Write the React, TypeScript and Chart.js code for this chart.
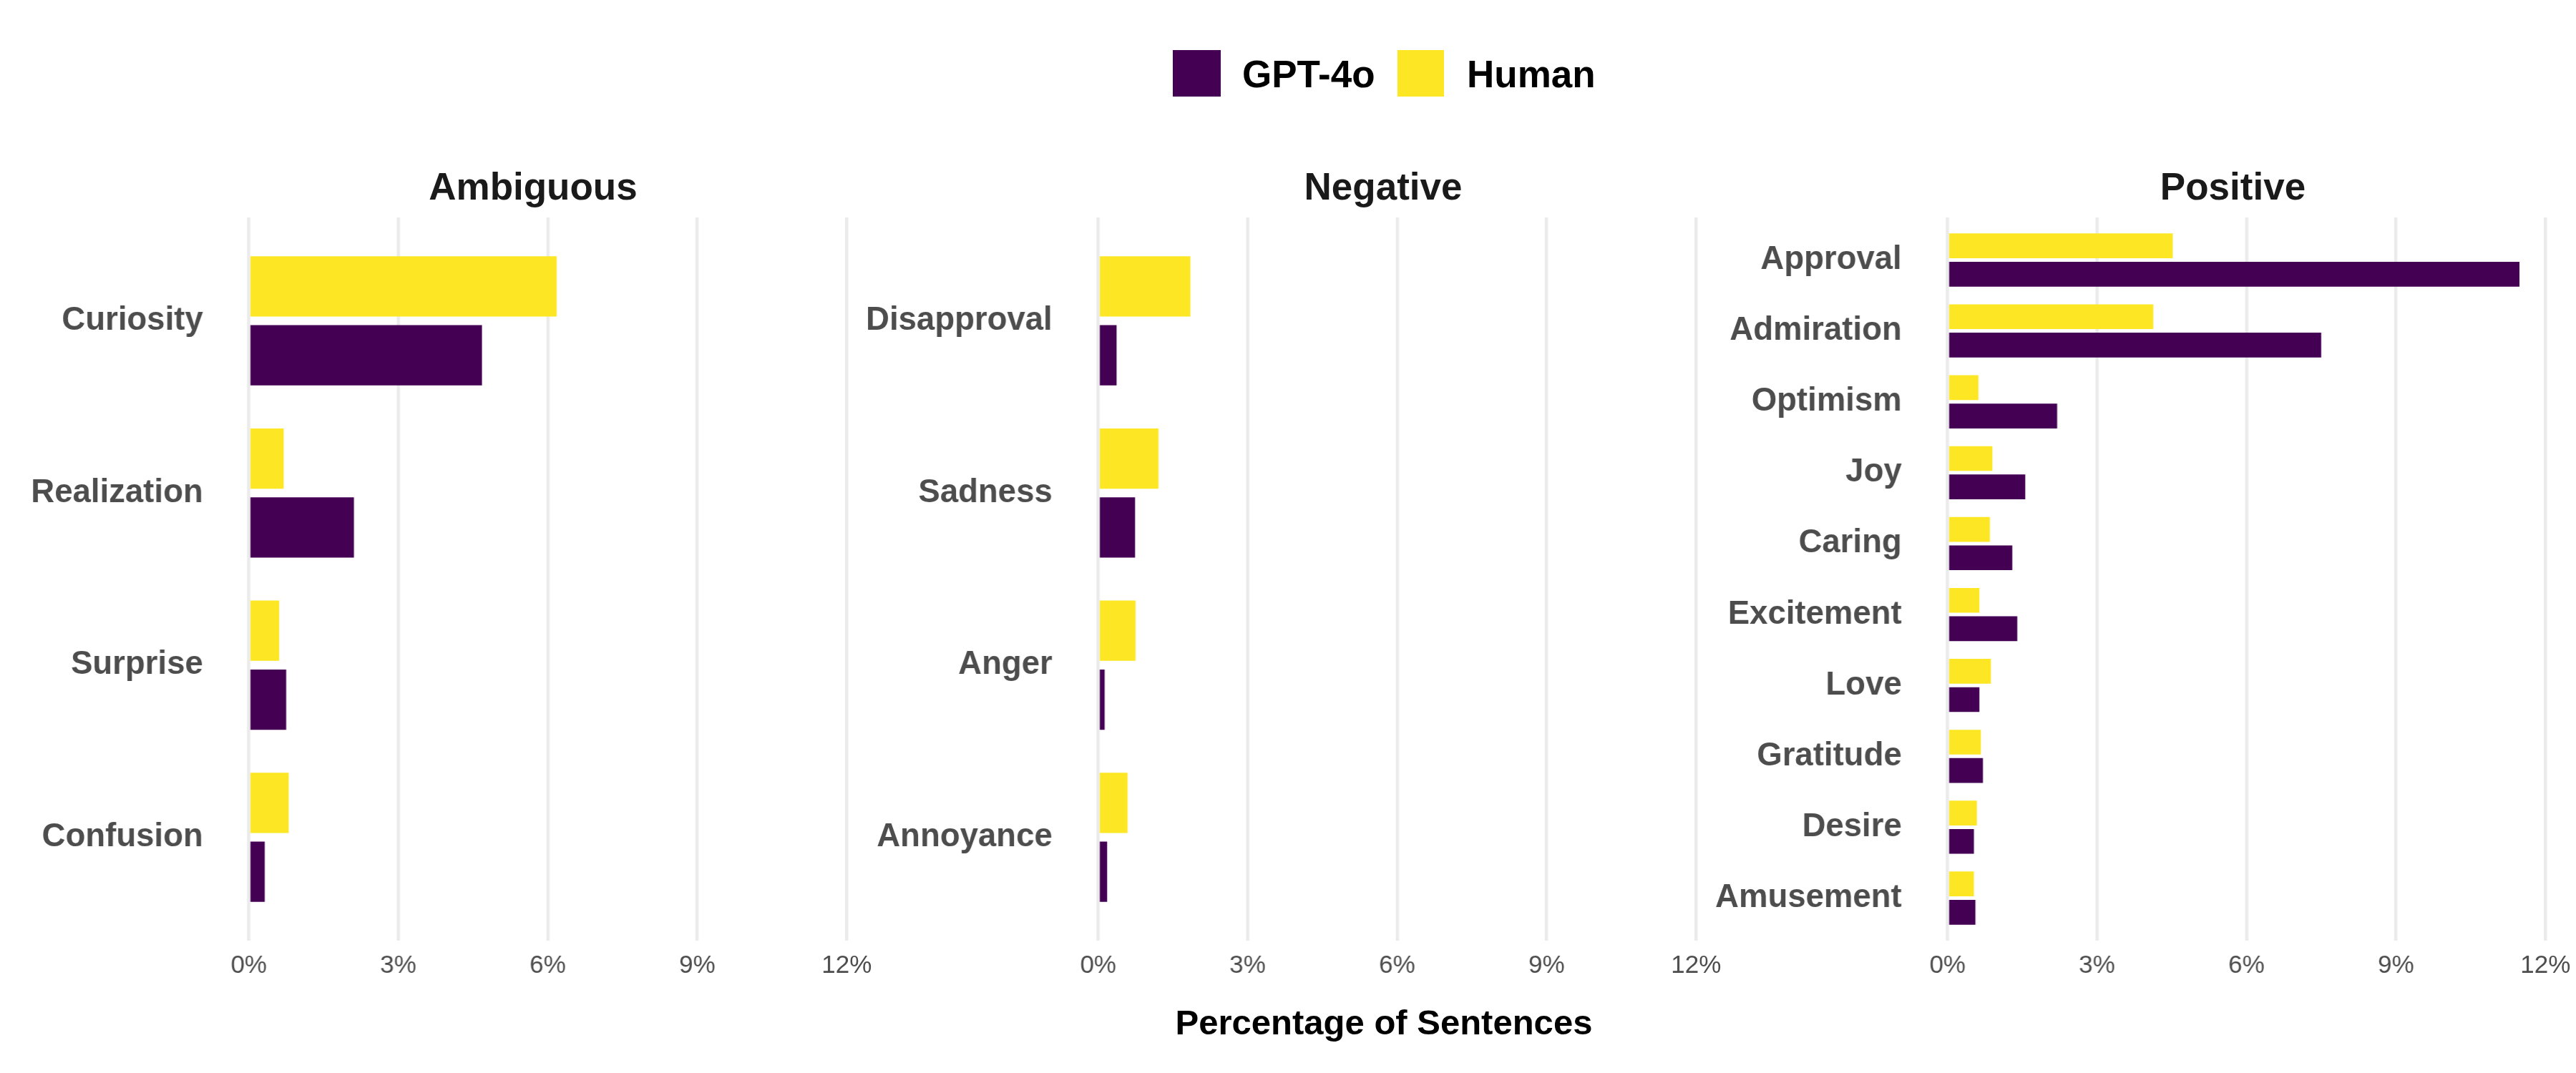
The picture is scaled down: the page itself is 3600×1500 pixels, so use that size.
import React, { useEffect, useRef } from "react";
import { Chart, registerables } from "chart.js";

Chart.register(...registerables);

const FONT = "'Liberation Sans', Arial, Helvetica, sans-serif";
const PURPLE = "#440154";
const YELLOW = "#FDE725";
const GRID = "#EBEBEB";
const TEXT_GREY = "#4D4D4D";

// ---- data (percent of sentences) ----
const seriesNames = ["GPT-4o", "Human"];
const xTicks = [0, 3, 6, 9, 12];

const ambiguousLabels = ["Curiosity", "Realization", "Surprise", "Confusion"];
const ambiguousHuman = [6.18, 0.7, 0.61, 0.8];
const ambiguousGpt = [4.68, 2.11, 0.75, 0.32];

const negativeLabels = ["Disapproval", "Sadness", "Anger", "Annoyance"];
const negativeHuman = [1.85, 1.21, 0.75, 0.59];
const negativeGpt = [0.37, 0.74, 0.13, 0.18];

const positiveLabels = [
  "Approval",
  "Admiration",
  "Optimism",
  "Joy",
  "Caring",
  "Excitement",
  "Love",
  "Gratitude",
  "Desire",
  "Amusement",
];
const positiveHuman = [4.52, 4.13, 0.62, 0.9, 0.85, 0.64, 0.87, 0.67, 0.59, 0.53];
const positiveGpt = [11.48, 7.5, 2.2, 1.56, 1.3, 1.4, 0.64, 0.71, 0.53, 0.56];

const X_MIN = -0.574;
const X_MAX = 12.054;

// ---- layout ----
const PLOT_TOP = 304;
const PLOT_H = 1011;
const PLOT_W = 879;
const PAD_TOP = 70;
const PAD_RIGHT = 70;
const X_AXIS_H = 100;

type PanelProps = {
  title: string;
  labels: string[];
  human: number[];
  gpt: number[];
  plotLeft: number;
  canvasLeft: number;
  titleCx: number;
};

function Panel({ title, labels, human, gpt, plotLeft, canvasLeft, titleCx }: PanelProps) {
  const ref = useRef<HTMLCanvasElement | null>(null);
  const yw = plotLeft - canvasLeft;
  const width = yw + PLOT_W + PAD_RIGHT;
  const height = PAD_TOP + PLOT_H + X_AXIS_H;

  useEffect(() => {
    if (!ref.current) return;
    const chart = new Chart(ref.current, {
      type: "bar",
      data: {
        datasets: [
          {
            label: seriesNames[1],
            data: human.map((v, i) => ({ x: v, y: i })),
            backgroundColor: YELLOW,
            borderWidth: 0,
          },
          {
            label: seriesNames[0],
            data: gpt.map((v, i) => ({ x: v, y: i })),
            backgroundColor: PURPLE,
            borderWidth: 0,
          },
        ],
      },
      options: {
        indexAxis: "y",
        animation: false,
        responsive: false,
        maintainAspectRatio: false,
        devicePixelRatio: 1,
        layout: { padding: { top: PAD_TOP, right: PAD_RIGHT, left: 0, bottom: 0 } },
        datasets: { bar: { barPercentage: 0.875, categoryPercentage: 0.8 } },
        plugins: {
          legend: { display: false },
          tooltip: { enabled: false },
          title: { display: false },
        },
        scales: {
          x: {
            type: "linear",
            min: X_MIN,
            max: X_MAX,
            offset: false,
            afterBuildTicks: (ax: any) => {
              ax.ticks = xTicks.map((v) => ({ value: v }));
            },
            afterFit: (ax: any) => {
              ax.height = X_AXIS_H;
            },
            grid: { color: GRID, lineWidth: 4.5, drawTicks: false },
            border: { display: false },
            ticks: {
              callback: (v: any) => `${v}%`,
              color: TEXT_GREY,
              font: { family: FONT, size: 35, weight: "normal" },
              padding: 14,
              maxRotation: 0,
              autoSkip: false,
            },
          },
          y: {
            type: "linear",
            min: -0.6,
            max: labels.length - 1 + 0.6,
            reverse: true,
            offset: false,
            afterBuildTicks: (ax: any) => {
              ax.ticks = labels.map((_, i) => ({ value: i }));
            },
            afterFit: (ax: any) => {
              ax.width = yw;
            },
            grid: { display: false, drawTicks: false },
            border: { display: false },
            ticks: {
              callback: (v: any) => labels[v as number] ?? "",
              color: TEXT_GREY,
              font: { family: FONT, size: 45.5, weight: "bold" },
              padding: 24,
              autoSkip: false,
            },
          },
        },
      },
    } as any);
    return () => chart.destroy();
  }, []);

  return (
    <>
      <div
        style={{
          position: "absolute",
          left: canvasLeft,
          top: PLOT_TOP - PAD_TOP,
          width,
          height,
        }}
      >
        <canvas ref={ref} width={width} height={height} style={{ width, height, display: "block" }} />
      </div>
      <div
        style={{
          position: "absolute",
          left: titleCx - 400,
          width: 800,
          top: 234,
          textAlign: "center",
          fontFamily: FONT,
          fontWeight: "bold",
          fontSize: 53,
          lineHeight: "53px",
          color: "#1A1A1A",
          whiteSpace: "nowrap",
        }}
      >
        {title}
      </div>
    </>
  );
}

export default function App() {
  const legendText: React.CSSProperties = {
    position: "absolute",
    top: 77,
    fontFamily: FONT,
    fontWeight: "bold",
    fontSize: 53,
    lineHeight: "53px",
    color: "#000",
    whiteSpace: "nowrap",
  };
  return (
    <div
      style={{
        position: "fixed",
        left: 0,
        top: 0,
        width: 3600,
        height: 1500,
        background: "#fff",
        overflow: "hidden",
      }}
    >
      {/* legend */}
      <div style={{ position: "absolute", left: 1639, top: 70, width: 67, height: 65, background: PURPLE }} />
      <div style={{ ...legendText, left: 1736 }}>{seriesNames[0]}</div>
      <div style={{ position: "absolute", left: 1953, top: 70, width: 65, height: 65, background: YELLOW }} />
      <div style={{ ...legendText, left: 2050 }}>{seriesNames[1]}</div>

      <Panel
        title="Ambiguous"
        labels={ambiguousLabels}
        human={ambiguousHuman}
        gpt={ambiguousGpt}
        plotLeft={307.5}
        canvasLeft={0}
        titleCx={745}
      />
      <Panel
        title="Negative"
        labels={negativeLabels}
        human={negativeHuman}
        gpt={negativeGpt}
        plotLeft={1494.5}
        canvasLeft={1190}
        titleCx={1933}
      />
      <Panel
        title="Positive"
        labels={positiveLabels}
        human={positiveHuman}
        gpt={positiveGpt}
        plotLeft={2681.5}
        canvasLeft={2378}
        titleCx={3120.5}
      />

      <div
        style={{
          position: "absolute",
          left: 1934 - 500,
          width: 1000,
          top: 1405,
          textAlign: "center",
          fontFamily: FONT,
          fontWeight: "bold",
          fontSize: 49,
          lineHeight: "49px",
          color: "#000",
          whiteSpace: "nowrap",
        }}
      >
        Percentage of Sentences
      </div>
    </div>
  );
}
